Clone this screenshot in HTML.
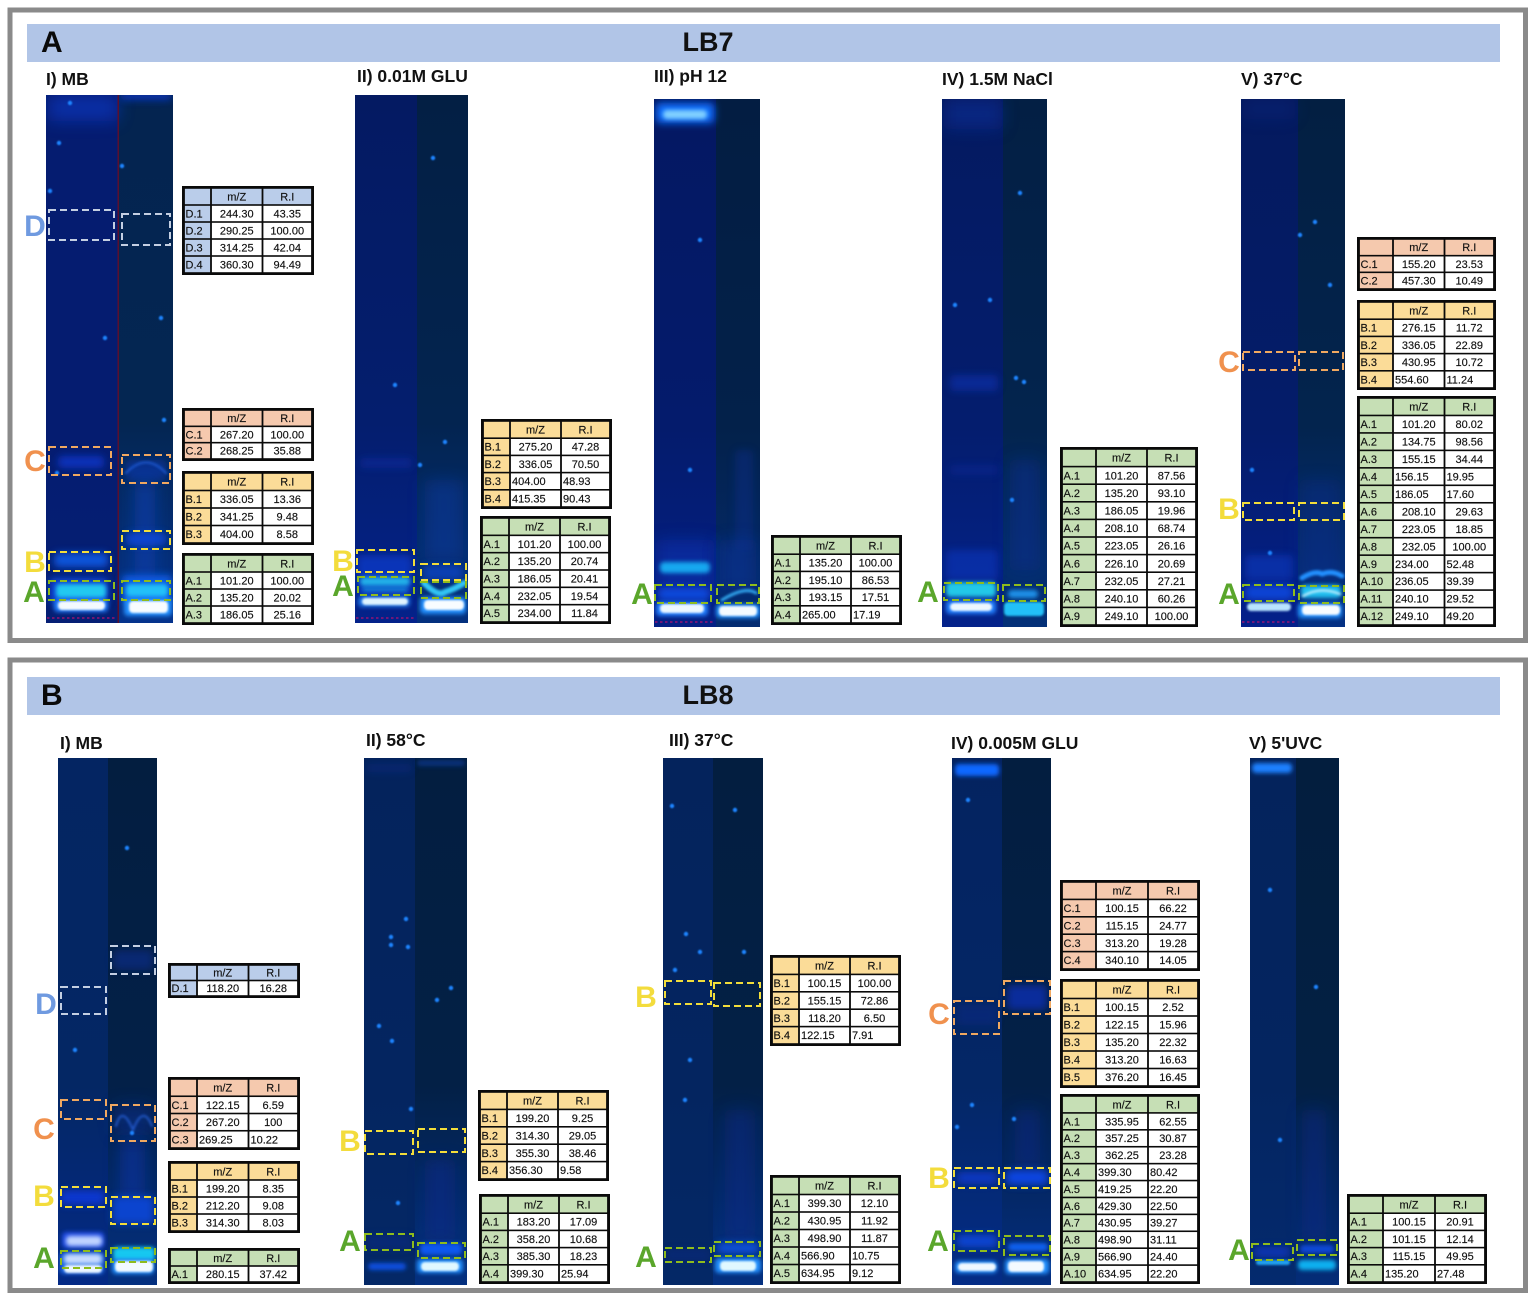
<!DOCTYPE html>
<html lang="en">
<head>
<meta charset="utf-8">
<title>LB7 and LB8 TLC gels with m/Z tables</title>
<style>
html,body{margin:0;padding:0;background:#fff;width:1535px;height:1301px;overflow:hidden}
svg{display:block;font-family:"Liberation Sans",sans-serif}
</style>
</head>
<body>
<svg id="figure" xmlns="http://www.w3.org/2000/svg" width="1535" height="1301" viewBox="0 0 1535 1301">
<defs>
<filter id="b1" x="-30%" y="-100%" width="160%" height="300%"><feGaussianBlur stdDeviation="1"/></filter>
<filter id="b2" x="-30%" y="-150%" width="160%" height="400%"><feGaussianBlur stdDeviation="2"/></filter>
<filter id="b4" x="-50%" y="-150%" width="200%" height="400%"><feGaussianBlur stdDeviation="4"/></filter>
<filter id="b8" x="-100%" y="-100%" width="300%" height="300%"><feGaussianBlur stdDeviation="8"/></filter>
<filter id="s1" x="-200%" y="-200%" width="500%" height="500%"><feGaussianBlur stdDeviation="0.8"/></filter>
<filter id="a1" x="-30%" y="-100%" width="160%" height="300%"><feGaussianBlur stdDeviation="1.2"/></filter>
</defs>
<g id="root" style="filter:blur(0.3px)"></g>
</svg>
<script>
/* ---------- table values: m/Z and R.I per fraction ---------- */
const lb7MbD = [["244.30","43.35"],["290.25","100.00"],["314.25","42.04"],["360.30","94.49"]];
const lb7MbC = [["267.20","100.00"],["268.25","35.88"]];
const lb7MbB = [["336.05","13.36"],["341.25","9.48"],["404.00","8.58"]];
const lb7MbA = [["101.20","100.00"],["135.20","20.02"],["186.05","25.16"]];
const lb7GluB = [["275.20","47.28"],["336.05","70.50"],["404.00","48.93"],["415.35","90.43"]];
const lb7GluA = [["101.20","100.00"],["135.20","20.74"],["186.05","20.41"],["232.05","19.54"],["234.00","11.84"]];
const lb7PhA = [["135.20","100.00"],["195.10","86.53"],["193.15","17.51"],["265.00","17.19"]];
const lb7NaclA = [["101.20","87.56"],["135.20","93.10"],["186.05","19.96"],["208.10","68.74"],["223.05","26.16"],["226.10","20.69"],["232.05","27.21"],["240.10","60.26"],["249.10","100.00"]];
const lb7T37C = [["155.20","23.53"],["457.30","10.49"]];
const lb7T37B = [["276.15","11.72"],["336.05","22.89"],["430.95","10.72"],["554.60","11.24"]];
const lb7T37A = [["101.20","80.02"],["134.75","98.56"],["155.15","34.44"],["156.15","19.95"],["186.05","17.60"],["208.10","29.63"],["223.05","18.85"],["232.05","100.00"],["234.00","52.48"],["236.05","39.39"],["240.10","29.52"],["249.10","49.20"]];
const lb8MbD = [["118.20","16.28"]];
const lb8MbC = [["122.15","6.59"],["267.20","100"],["269.25","10.22"]];
const lb8MbB = [["199.20","8.35"],["212.20","9.08"],["314.30","8.03"]];
const lb8MbA = [["280.15","37.42"]];
const lb8T58B = [["199.20","9.25"],["314.30","29.05"],["355.30","38.46"],["356.30","9.58"]];
const lb8T58A = [["183.20","17.09"],["358.20","10.68"],["385.30","18.23"],["399.30","25.94"]];
const lb8T37B = [["100.15","100.00"],["155.15","72.86"],["118.20","6.50"],["122.15","7.91"]];
const lb8T37A = [["399.30","12.10"],["430.95","11.92"],["498.90","11.87"],["566.90","10.75"],["634.95","9.12"]];
const lb8GluC = [["100.15","66.22"],["115.15","24.77"],["313.20","19.28"],["340.10","14.05"]];
const lb8GluB = [["100.15","2.52"],["122.15","15.96"],["135.20","22.32"],["313.20","16.63"],["376.20","16.45"]];
const lb8GluA = [["335.95","62.55"],["357.25","30.87"],["362.25","23.28"],["399.30","80.42"],["419.25","22.20"],["429.30","22.50"],["430.95","39.27"],["498.90","31.11"],["566.90","24.40"],["634.95","22.20"]];
const lb8UvcA = [["100.15","20.91"],["101.15","12.14"],["115.15","49.95"],["135.20","27.48"]];

/* ---------- figure layout ---------- */
const BLUE='#bacdea', ORANGE='#f5c9ae', YELLOW='#fbdc98', GREEN='#c6dfb5';
const LET={D:'#6f9ae0',C:'#f0914e',B:'#f3dc3c',A:'#5aa62b'};
const BOX={D:'#c4cfe2',C:'#f0a860',B:'#f2dd3a',A:'#8fbc1c'};
const FILL={D:BLUE,C:ORANGE,B:YELLOW,A:GREEN};
const tableFromLetter=(l)=>FILL[l];

const panels=[
 {id:'a',letter:'A',title:'LB7',top:10,bar:24,
  gels:[
   {name:'mb',label:'I) MB',lx:46,ly:80,x:46,x2:173,split:118,y:95,y2:623,lc:['#051c70','#051c70','#051f74'],rc:['#042450','#042652','#05338c'],divider:'#5a0f2e',pink:true,
    bands:[[48,95,70,26,'#0a3cd0',8,.55],[120,92,52,8,'#0a38d0',4,.8],[58,456,46,12,'#0c38d0',4,.8],[54,553,54,14,'#1060f0',4,.85],[50,578,58,25,'#0a50f0',4,.85],[56,584,50,14,'#20c8f0',2,1],[54,599,54,13,'#2080ff',2,1],[58,601,47,9,'#f4faff',1,1],
           [126,460,40,20,'#0a38b0',4,.6],[135,480,20,100,'#0a40b0',8,.7],[126,533,40,12,'#0c48e0',4,.85],[122,575,50,28,'#0a60f0',4,.9],[126,584,42,13,'#20c0f8',2,1],[124,598,48,18,'#2090ff',2,1],[129,601,39,12,'#f8fcff',1,1]],
    arcs:[['M126 473Q146 452 166 473','#1a58d0',2]],
    spots:[[70,103],[59,143],[50,191],[161,318],[105,338],[122,166],[164,420],[57,473]],
    boxes:[['D',49,210,65,30],['D',122,214,48,31],['C',49,447,62,28],['C',122,455,48,28],['B',49,552,62,19],['B',122,531,48,18],['A',49,581,65,19],['A',122,581,48,19]],
    letters:[['D',35,225],['C',35,460],['B',35,561],['A',34,591]],
    tables:[{k:'D',v:lb7MbD,x:182,y:186,w:132,h:89},{k:'C',v:lb7MbC,x:182,y:408,w:132,h:53},{k:'B',v:lb7MbB,x:182,y:471,w:132,h:74},{k:'A',v:lb7MbA,x:182,y:553,w:132,h:72}]},
   {name:'glu',label:'II) 0.01M GLU',lx:357,ly:77,x:355,x2:468,split:417,y:95,y2:623,lc:['#041a62','#041e6e','#04228a'],rc:['#031f44','#032450','#04307e'],pink:true,
    bands:[[360,458,52,10,'#0a2aa0',4,.6],[357,555,55,40,'#0a3ed0',4,.7],[360,577,50,9,'#20b0e8',2,1],[362,587,46,5,'#1890e0',2,.8],[358,596,52,11,'#2080f0',2,.9],[362,598,46,7,'#e0f4ff',1,1],
           [425,480,38,80,'#0a3aa0',8,.5],[423,565,40,15,'#0a48d0',4,.7],[420,597,46,17,'#2090ff',2,1],[424,600,40,10,'#f8fcff',1,1]],
    arcs:[['M424 583Q438 597 445 592Q455 589 464 583','#30c4f4',6]],
    spots:[[395,385],[445,442],[433,158],[420,465]],
    boxes:[['B',357,550,57,22],['A',358,577,56,18],['B',421,564,45,16],['A',421,582,45,16]],
    letters:[['B',343,560],['A',343,585]],
    tables:[{k:'B',v:lb7GluB,left:[2,3],x:481,y:419,w:131,h:90},{k:'A',v:lb7GluA,x:480,y:516,w:131,h:108}]},
   {name:'ph',label:'III) pH 12',lx:654,ly:77,x:654,x2:760,split:716,y:99,y2:627,lc:['#041862','#041b6c','#042084'],rc:['#031d42','#03214a','#042c72'],pink:true,
    bands:[[656,103,58,20,'#1070ff',4,1],[663,110,44,9,'#80d0ff',2,1],[656,540,58,55,'#0a30b0',8,.6],[660,562,50,11,'#18a8f0',2,1],[658,588,52,12,'#0c50e8',4,.9],[656,602,52,14,'#2080ff',2,1],[660,604,44,9,'#ecf6ff',1,1],
           [735,450,18,100,'#0a2f90',4,.4],[720,540,36,50,'#0a34a0',8,.5],[716,604,44,14,'#2090ff',2,1],[719,606,38,10,'#f4faff',1,1]],
    arcs:[['M722 600Q745 586 756 593','#30a8f0',3]],
    spots:[[700,240],[690,470]],
    boxes:[['A',655,585,56,18],['A',717,585,42,18]],
    letters:[['A',642,593]],
    tables:[{k:'A',v:lb7PhA,left:[3],x:771,y:535,w:131,h:90}]},
   {name:'nacl',label:'IV) 1.5M NaCl',lx:942,ly:80,x:942,x2:1047,split:1003,y:99,y2:627,lc:['#041a60','#041d6e','#04228a'],rc:['#031f44','#03244e','#043078'],
    bands:[[944,99,58,30,'#0a30a0',8,.5],[950,375,48,16,'#0a30b0',4,.6],[950,465,48,10,'#0a2ca0',4,.4],[946,550,52,30,'#0a3ac8',4,.5],[946,582,50,15,'#20c8e8',2,1],[946,600,50,14,'#2080ff',2,1],[950,603,42,8,'#ecf6ff',1,1],
           [1010,460,30,110,'#0a2f90',8,.5],[1008,590,30,8,'#1a90e8',2,1],[1004,602,40,14,'#20c0f8',1,1]],
    spots:[[1016,378],[1024,382],[1020,193],[955,305],[990,300],[1012,500]],
    boxes:[['A',944,583,54,17],['A',1003,585,42,16]],
    letters:[['A',928,591]],
    tables:[{k:'A',v:lb7NaclA,x:1060,y:447,w:138,h:180}]},
   {name:'t37',label:'V) 37°C',lx:1241,ly:80,x:1241,x2:1345,split:1298,y:99,y2:627,lc:['#041a5e','#041c6a','#04208a'],rc:['#031f42','#03244e','#043084'],pink:true,
    bands:[[1243,99,52,20,'#0a2c90',8,.3],[1245,555,48,25,'#0a3ac0',4,.6],[1245,585,48,15,'#0c48e0',4,.9],[1247,603,44,8,'#b8e4ff',1,1],
           [1300,480,40,100,'#0a2f90',8,.4],[1301,585,40,13,'#20c0f0',2,1],[1298,603,44,15,'#2090ff',2,1],[1302,605,38,10,'#f8fcff',1,1]],
    arcs:[['M1302 578Q1315 570 1322 574Q1332 570 1342 576','#2090ff',5],['M1303 596Q1320 586 1340 594','#d8f4ff',2]],
    spots:[[1315,222],[1300,235],[1330,285],[1270,553],[1252,470]],
    boxes:[['C',1243,352,52,18],['C',1299,352,44,18],['B',1243,503,51,17],['B',1299,503,45,17],['A',1243,585,51,16],['A',1299,586,45,17]],
    letters:[['C',1229,361],['B',1229,508],['A',1229,593]],
    tables:[{k:'C',v:lb7T37C,x:1357,y:237,w:139,h:54},{k:'B',v:lb7T37B,left:[3],x:1357,y:300,w:139,h:90},{k:'A',v:lb7T37A,left:[3,4,8,9,10,11],x:1357,y:396,w:139,h:231}]}
  ]},
 {id:'b',letter:'B',title:'LB8',top:660,bar:677,
  gels:[
   {name:'mb',label:'I) MB',lx:60,ly:744,x:58,x2:157,split:108,y:758,y2:1285,lc:['#042562','#042764','#042a86'],rc:['#031e40','#032048','#043080'],
    bands:[[60,1190,45,15,'#0c3ae0',4,.85],[62,1232,42,16,'#2050f0',2,.9],[66,1236,36,10,'#c0d4ff',2,1],[60,1252,44,22,'#2070f0',2,.9],[64,1254,38,10,'#c8dcff',2,1],[64,1265,38,8,'#ecf6ff',1,1],
           [113,950,40,20,'#0a2f90',4,.6],[115,1105,36,30,'#0a2f90',8,.5],[120,1140,25,60,'#0a34a8',8,.6],[112,1196,42,28,'#0c48e0',4,.85],[113,1247,42,14,'#18c8f0',2,1],[112,1259,42,15,'#2090ff',2,1],[115,1261,38,11,'#f4faff',1,1]],
    arcs:[['M116 1126Q122 1104 133 1130Q143 1104 152 1126','#2058c8',2]],
    spots:[[127,848],[75,1050],[132,1133]],
    boxes:[['D',61,987,45,27],['D',111,946,44,28],['C',61,1100,45,19],['C',111,1105,44,36],['B',61,1187,45,20],['B',111,1197,44,27],['A',61,1251,45,17],['A',111,1248,44,14]],
    letters:[['D',46,1003],['C',44,1128],['B',44,1195],['A',44,1257]],
    tables:[{k:'D',v:lb8MbD,x:168,y:963,w:132,h:35},{k:'C',v:lb8MbC,left:[2],x:168,y:1077,w:132,h:73},{k:'B',v:lb8MbB,x:168,y:1161,w:132,h:72},{k:'A',v:lb8MbA,x:168,y:1248,w:132,h:36}]},
   {name:'t58',label:'II) 58°C',lx:366,ly:741,x:364,x2:467,split:415,y:758,y2:1285,lc:['#04235c','#042560','#042866'],rc:['#031e40','#032046','#043080'],
    bands:[[366,764,46,8,'#0a2c90',4,.4],[366,1235,46,14,'#0a2c90',4,.4],[368,1263,38,7,'#0c50e0',2,1],
           [417,760,48,6,'#0a3ca0',2,.6],[425,1160,30,80,'#0a2c90',8,.5],[420,1243,42,12,'#0c58f0',2,1],[417,1259,46,14,'#2090ff',2,1],[421,1262,38,9,'#e0f8ff',1,1]],
    spots:[[391,937],[391,945],[408,947],[406,919],[379,1026],[392,1041],[451,988],[437,1000],[411,1109],[398,1203]],
    boxes:[['B',365,1131,48,23],['B',418,1129,47,23],['A',365,1234,48,16],['A',418,1243,47,15]],
    letters:[['B',350,1140],['A',350,1240]],
    tables:[{k:'B',v:lb8T58B,left:[3],x:478,y:1090,w:131,h:91},{k:'A',v:lb8T58A,left:[3],x:479,y:1194,w:131,h:90}]},
   {name:'t37',label:'III) 37°C',lx:669,ly:741,x:663,x2:763,split:713,y:758,y2:1285,lc:['#04235c','#042560','#042866'],rc:['#031e40','#032046','#043080'],
    bands:[[665,1250,45,10,'#0a2c90',4,.4],
           [725,1110,30,130,'#0a2c90',8,.45],[717,1243,42,10,'#0c58f0',4,.9],[715,1258,46,15,'#2090ff',2,1],[720,1261,36,10,'#e0f8ff',1,1]],
    spots:[[686,934],[672,806],[735,810],[700,952],[690,1060],[744,952],[675,970],[685,1100]],
    boxes:[['B',665,981,46,23],['B',714,983,46,23],['A',665,1248,46,14],['A',714,1242,46,14]],
    letters:[['B',646,996],['A',646,1256]],
    tables:[{k:'B',v:lb8T37B,left:[3],x:770,y:955,w:131,h:91},{k:'A',v:lb8T37A,left:[3,4],x:770,y:1175,w:131,h:109}]},
   {name:'glu',label:'IV) 0.005M GLU',lx:951,ly:744,x:952,x2:1051,split:1002,y:758,y2:1285,lc:['#042360','#042766','#042c86'],rc:['#031e40','#032048','#042e80'],
    bands:[[955,764,44,12,'#1068ff',2,1],[957,1005,40,20,'#0a2c90',4,.4],[957,1172,40,12,'#0c3ad0',4,.85],[957,1235,40,12,'#0c48e0',4,.9],[955,1261,42,12,'#2090ff',2,1],[958,1263,38,8,'#f0f8ff',1,1],
           [1007,985,40,25,'#0c30c0',4,.7],[1015,1110,25,60,'#0a2c90',8,.45],[1006,1170,42,15,'#0c4af0',4,.9],[1008,1243,40,8,'#1060f0',2,1],[1005,1259,44,15,'#2090ff',2,1],[1008,1261,36,11,'#f4faff',1,1]],
    spots:[[972,1105],[957,1127],[1014,1119],[968,800]],
    boxes:[['C',954,1001,45,33],['C',1004,981,46,33],['B',954,1168,45,20],['B',1004,1168,46,20],['A',954,1231,45,20],['A',1004,1236,46,19]],
    letters:[['C',939,1013],['B',939,1177],['A',938,1240]],
    tables:[{k:'C',v:lb8GluC,x:1060,y:880,w:140,h:91},{k:'B',v:lb8GluB,x:1060,y:979,w:140,h:109},{k:'A',v:lb8GluA,left:[3,4,5,6,7,8,9],x:1060,y:1094,w:140,h:190}]},
   {name:'uvc',label:"V) 5'UVC",lx:1249,ly:744,x:1250,x2:1339,split:1296,y:758,y2:1285,lc:['#04235c','#042560','#042a6e'],rc:['#031e3e','#032044','#042c78'],
    bands:[[1252,763,40,10,'#1a80ff',2,1],[1254,1247,36,10,'#0c38c8',4,.85],[1256,1260,34,5,'#20a0f0',1,1],
           [1302,1110,24,130,'#0a2c90',8,.45],[1300,1245,34,8,'#0c48d8',2,1],[1298,1260,38,10,'#10b0f0',2,1]],
    spots:[[1316,987],[1280,1140],[1270,890]],
    boxes:[['A',1252,1244,41,16],['A',1297,1240,40,15]],
    letters:[['A',1239,1249]],
    tables:[{k:'A',v:lb8UvcA,left:[3],x:1347,y:1194,w:140,h:90}]}
  ]}
];

/* ---------- drawing ---------- */
const NS='http://www.w3.org/2000/svg';
const root=document.getElementById('root');
const defs=document.querySelector('defs');
function mk(tag,attrs,parent){
  const e=document.createElementNS(NS,tag);
  for(const k in attrs){e.setAttribute(k,attrs[k]);}
  (parent||root).appendChild(e);
  return e;
}
function gradient(id,stops){
  const g=mk('linearGradient',{id:id,x1:0,y1:0,x2:0,y2:1},defs);
  mk('stop',{offset:'0','stop-color':stops[0]},g);
  mk('stop',{offset:'0.62','stop-color':stops[1]},g);
  mk('stop',{offset:'1','stop-color':stops[2]},g);
}
function drawTable(parent,t,name){
  const g=mk('g',{},parent);
  
  
  const fill=tableFromLetter(t.k);
  const rows=t.v.length+1;
  const lw=t.w<135?29:36;
  const mw=(t.w-lw)/2;
  const rh=(t.h-4)/rows;
  mk('rect',{x:t.x,y:t.y,width:t.w,height:t.h,fill:'#0a0a0a'},g);
  const cols=[t.x+2,t.x+lw,t.x+lw+mw,t.x+t.w-2];
  for(let r=0;r<rows;r++){
    const y=t.y+2+r*rh;
    for(let c=0;c<3;c++){
      const isHead=r===0||c===0;
      mk('rect',{x:cols[c]+0.9,y:y+0.8,width:cols[c+1]-cols[c]-1.8,height:rh-1.6,fill:isHead?fill:'#ffffff'},g);
      let s='',anchor='middle',tx=(cols[c]+cols[c+1])/2;
      if(r===0&&c===1){s='m/Z';}
      if(r===0&&c===2){s='R.I';}
      if(r>0&&c===0){s=t.k+'.'+r;anchor='start';tx=cols[0]+1.5;}
      if(r>0&&c>0){
        s=t.v[r-1][c-1];
        if(t.left&&t.left.includes(r-1)){anchor='start';tx=cols[c]+2;}
      }
      if(s){
        const tn=mk('text',{x:tx,y:y+rh/2+3.9,'text-anchor':anchor,'font-size':'11','fill':'#101010',stroke:'#101010','stroke-width':'0.15'},g);
        tn.textContent=s;
      }
    }
  }
}
panels.forEach(function(p){
  const pg=mk('g',{});
  
  
  const frame=mk('rect',{x:10,y:p.top,width:1515.5,height:630.5,fill:'#fff',stroke:'#8a8a8a','stroke-width':'5'},pg);
  
  
  const bar=mk('rect',{x:27,y:p.bar,width:1473,height:38,fill:'#b1c5e7'},pg);
  
  
  const letter=mk('text',{x:41,y:p.bar+28,'font-size':'30','font-weight':'700',fill:'#0a0a0a'},pg);
  
  
  letter.textContent=p.letter;
  const title=mk('text',{x:708,y:p.bar+27,'text-anchor':'middle','font-size':'27','font-weight':'700',fill:'#111'},pg);
  
  
  title.textContent=p.title;

  p.gels.forEach(function(g){
    const base=p.id+'-'+g.name;
    const cond=mk('text',{x:g.lx,y:g.ly+5,'font-size':'17.5','font-weight':'700',fill:'#111'},pg);
    
    
    cond.textContent=g.label;

    gradient('lg-'+base,g.lc);
    gradient('rg-'+base,g.rc);
    const clip=mk('clipPath',{id:'clip-'+base},defs);
    mk('rect',{x:g.x,y:g.y,width:g.x2-g.x,height:g.y2-g.y},clip);

    const gel=mk('g',{'clip-path':'url(#clip-'+base+')'},pg);
    
    
    mk('rect',{x:g.x,y:g.y,width:g.split-g.x,height:g.y2-g.y,fill:'url(#lg-'+base+')'},gel);
    mk('rect',{x:g.split,y:g.y,width:g.x2-g.split,height:g.y2-g.y,fill:'url(#rg-'+base+')'},gel);
    g.bands.forEach(function(b){
      mk('rect',{x:b[0],y:b[1],width:b[2],height:b[3],rx:Math.min(4,b[3]/2),fill:b[4],opacity:b[6],filter:'url(#b'+b[5]+')'},gel);
    });
    (g.arcs||[]).forEach(function(a){
      mk('path',{d:a[0],fill:'none',stroke:a[1],'stroke-width':a[2],'stroke-linecap':'round',filter:'url(#a1)'},gel);
    });
    g.spots.forEach(function(s){
      mk('circle',{cx:s[0],cy:s[1],r:2.2,fill:'#1c84ff',filter:'url(#s1)'},gel);
    });
    if(g.divider){mk('rect',{x:g.split-0.5,y:g.y,width:1.5,height:g.y2-g.y,fill:g.divider},gel);}
    if(g.pink){mk('line',{x1:g.x+1,x2:g.split-1,y1:g.y2-5,y2:g.y2-5,stroke:'#b01070','stroke-width':'1.3','stroke-dasharray':'2.5 2.5'},gel);}
    g.boxes.forEach(function(b){
      const r=mk('rect',{x:b[1],y:b[2],width:b[3],height:b[4],fill:'none',stroke:BOX[b[0]],'stroke-width':'2','stroke-dasharray':'7 4'},pg);
      
      
    });
    g.letters.forEach(function(l){
      const t=mk('text',{x:l[1],y:l[2]+11,'text-anchor':'middle','font-size':'30','font-weight':'700',fill:LET[l[0]]},pg);
      
      
      t.textContent=l[0];
    });
    g.tables.forEach(function(t){
      drawTable(pg,t,'table-'+base+'-'+t.k.toLowerCase());
    });
  });
});
</script>
</body>
</html>
